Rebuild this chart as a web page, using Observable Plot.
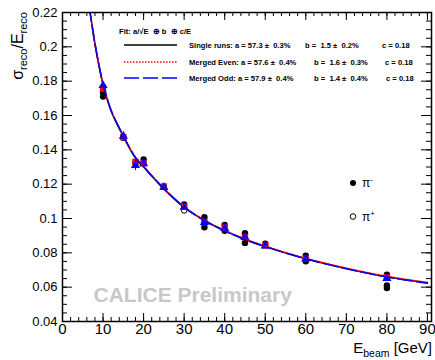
<!DOCTYPE html>
<html><head><meta charset="utf-8">
<script src="https://cdn.jsdelivr.net/npm/d3@7"></script>
<script src="https://cdn.jsdelivr.net/npm/@observablehq/plot@0.6"></script>
<style>
body{margin:0;background:#fff;}
#chart{position:relative;width:435px;height:360px;}
</style></head><body><div id="chart"></div>
<script>
// ---- data ----
const piMinusE = [10, 10, 15, 18, 20, 25, 30, 35, 35, 40, 40, 45, 45, 50, 60, 60, 80, 80, 80];
const piMinusV = [0.1735, 0.1710, 0.1470, 0.1325, 0.1344, 0.1186, 0.1082, 0.1008, 0.0949, 0.0963, 0.0928, 0.0914, 0.0858, 0.0853, 0.0784, 0.0751, 0.0672, 0.0610, 0.0595];
const piPlusE = [30];
const piPlusV = [0.1047];

const mergedE = [10, 15, 18, 20, 25, 30, 35, 40, 45, 50, 60, 80];
const evenV = [0.1757, 0.1474, 0.1330, 0.1322, 0.1186, 0.1070, 0.0978, 0.0948, 0.0891, 0.0843, 0.0767, 0.0658];
const evenErr = [0.0015, 0.0012, 0.0015, 0.0012, 0.0010, 0.0010, 0.0010, 0.0010, 0.0010, 0.0010, 0.0010, 0.0010];
const oddV = [0.1775, 0.1480, 0.1309, 0.1320, 0.1182, 0.1066, 0.0977, 0.0942, 0.0890, 0.0840, 0.0765, 0.0652];
const oddErr = [0.0015, 0.0012, 0.0030, 0.0012, 0.0010, 0.0010, 0.0010, 0.0010, 0.0010, 0.0010, 0.0010, 0.0010];

const fitE = [6.6, 7, 8, 9, 10, 12, 15, 18, 20, 25, 30, 35, 40, 45, 50, 60, 70, 80, 90];
const fitSingle = [0.2225, 0.2165, 0.2015, 0.1888, 0.1780, 0.1625, 0.1478, 0.1352, 0.1300, 0.1172, 0.1064, 0.0988, 0.0928, 0.0878, 0.0836, 0.0765, 0.0708, 0.0660, 0.0625];
const fitEven  = [0.2230, 0.2170, 0.2020, 0.1893, 0.1785, 0.1630, 0.1482, 0.1356, 0.1304, 0.1176, 0.1068, 0.0991, 0.0931, 0.0881, 0.0839, 0.0768, 0.0711, 0.0663, 0.0628];
const fitOdd   = [0.2235, 0.2174, 0.2023, 0.1895, 0.1787, 0.1630, 0.1482, 0.1355, 0.1302, 0.1174, 0.1066, 0.0988, 0.0928, 0.0878, 0.0836, 0.0765, 0.0707, 0.0659, 0.0623];

const xMajor = [0, 10, 20, 30, 40, 50, 60, 70, 80, 90];
const xMinor = d3.range(0, 91, 2);
const yMajor = [0.04, 0.06, 0.08, 0.1, 0.12, 0.14, 0.16, 0.18, 0.2, 0.22];
const yMinor = d3.range(0.04, 0.2201, 0.005);

const legendRows = [
  {label: "Single runs: a = 57.3 \u00b1  0.3%", b: "b =  1.5 \u00b1  0.2%", c: "c = 0.18"},
  {label: "Merged Even: a = 57.6 \u00b1  0.4%", b: "b =  1.6 \u00b1  0.3%", c: "c = 0.18"},
  {label: "Merged Odd: a = 57.9 \u00b1  0.4%", b: "b =  1.4 \u00b1  0.4%", c: "c = 0.18"}
];

// ---- tables ----
const piMinus = piMinusE.map((e, i) => ({e, v: piMinusV[i]}));
const piPlus = piPlusE.map((e, i) => ({e, v: piPlusV[i]}));
const even = mergedE.map((e, i) => ({e, v: evenV[i], err: evenErr[i]}));
const odd = mergedE.map((e, i) => ({e, v: oddV[i], err: oddErr[i]}));
const fS = fitE.map((e, i) => ({e, v: fitSingle[i]}));
const fE = fitE.map((e, i) => ({e, v: fitEven[i]}));
const fO = fitE.map((e, i) => ({e, v: fitOdd[i]}));

const W = 435, H = 360, ML = 62, MR = 4, MT = 12, MB = 39;
const FW = W - ML - MR, FH = H - MT - MB;
const FONT = "'Liberation Sans', Arial, Helvetica, sans-serif";

const chart = Plot.plot({
  width: W, height: H,
  marginLeft: ML, marginRight: MR, marginTop: MT, marginBottom: MB,
  style: {fontFamily: FONT, background: "white", color: "black"},
  x: {domain: [0, 91]},
  y: {domain: [0.04, 0.22]},
  marks: [
    // tick marks (inward, on all four sides)
    Plot.tickX(xMajor, {x: d => d, insetTop: FH - 8, stroke: "black"}),
    Plot.tickX(xMajor, {x: d => d, insetBottom: FH - 8, stroke: "black"}),
    Plot.tickX(xMinor, {x: d => d, insetTop: FH - 4, stroke: "black"}),
    Plot.tickX(xMinor, {x: d => d, insetBottom: FH - 4, stroke: "black"}),
    Plot.tickY(yMajor, {y: d => d, insetRight: FW - 10, stroke: "black"}),
    Plot.tickY(yMajor, {y: d => d, insetLeft: FW - 10, stroke: "black"}),
    Plot.tickY(yMinor, {y: d => d, insetRight: FW - 5, stroke: "black"}),
    Plot.tickY(yMinor, {y: d => d, insetLeft: FW - 5, stroke: "black"}),
    Plot.axisX({ticks: xMajor, tickSize: 0, tickPadding: 2, fontSize: 15, tickFormat: d => String(d), label: null}),
    Plot.axisY({ticks: yMajor, tickSize: 0, tickPadding: 5, fontSize: 13, tickFormat: d => String(+d.toFixed(2)), label: null}),
    // watermark
    Plot.text(["CALICE Preliminary"], {frameAnchor: "bottom-left", dx: 31, dy: -20, fontSize: 21, fontWeight: "bold", fill: "#c8c8c8", textAnchor: "start"}),
    // data points
    Plot.dot(piMinus, {x: "e", y: "v", r: 3.2, fill: "black", stroke: "none"}),
    Plot.dot(piPlus, {x: "e", y: "v", r: 2.8, fill: "white", stroke: "black", strokeWidth: 1}),
    Plot.ruleX(even, {x: "e", y1: d => d.v - d.err, y2: d => d.v + d.err, stroke: "red", strokeWidth: 1}),
    Plot.dot(even, {x: "e", y: "v", symbol: "square", r: 3.6, fill: "red", stroke: "none"}),
    Plot.ruleX(odd, {x: "e", y1: d => d.v - d.err, y2: d => d.v + d.err, stroke: "blue", strokeWidth: 1}),
    Plot.dot(odd, {x: "e", y: "v", symbol: "triangle", r: 3.4, fill: "blue", stroke: "none"}),
    // fits
    Plot.line(fS, {x: "e", y: "v", stroke: "black", strokeWidth: 1.5, curve: "catmull-rom", clip: true}),
    Plot.line(fE, {x: "e", y: "v", stroke: "red", strokeWidth: 1.5, strokeDasharray: "1.5,1.5", curve: "catmull-rom", clip: true}),
    Plot.line(fO, {x: "e", y: "v", stroke: "blue", strokeWidth: 1.5, strokeDasharray: "15,4", curve: "catmull-rom", clip: true}),
    Plot.frame({stroke: "black", strokeWidth: 1.5})
  ]
});

document.getElementById("chart").appendChild(chart);
const svg = d3.select(chart);

// axis titles
const yt = svg.append("text")
  .attr("transform", "translate(23,12) rotate(-90)")
  .attr("text-anchor", "end")
  .attr("font-family", FONT).attr("font-size", 16).attr("fill", "black");
yt.append("tspan").text("\u03c3");
yt.append("tspan").attr("font-size", 11).attr("dy", 4).text("reco");
yt.append("tspan").attr("dy", -4).text("/E");
yt.append("tspan").attr("font-size", 11).attr("dy", 4).text("reco");

const xt = svg.append("text")
  .attr("x", 432).attr("y", 353)
  .attr("text-anchor", "end")
  .attr("font-family", FONT).attr("font-size", 15).attr("fill", "black");
xt.append("tspan").text("E");
xt.append("tspan").attr("font-size", 10.5).attr("dy", 4).text("beam");
xt.append("tspan").attr("dy", -4).style("white-space", "pre").text(" [GeV]");

// fit legend
const lg = svg.append("g").attr("font-family", FONT).attr("font-size", 7.6).attr("font-weight", "bold")
  .attr("fill", "black").attr("text-anchor", "start").style("white-space", "pre");
lg.append("text").attr("x", 119).attr("y", 34).text("Fit: a/\u221aE  \u2295 b  \u2295 c/E");
const rowY = [45, 62, 78];
const lineStyles = [
  {stroke: "black", dash: null},
  {stroke: "red", dash: "1.5,1.5"},
  {stroke: "blue", dash: "15,4"}
];
const bX = [305, 314, 314], cX = [382, 385, 386];
legendRows.forEach((r, i) => {
  const l = lg.append("line").attr("x1", 124).attr("x2", 177).attr("y1", rowY[i]).attr("y2", rowY[i])
    .attr("stroke", lineStyles[i].stroke).attr("stroke-width", 1.5);
  if (lineStyles[i].dash) l.attr("stroke-dasharray", lineStyles[i].dash);
  lg.append("text").attr("x", 189).attr("y", rowY[i] + 2.7).text(r.label);
  lg.append("text").attr("x", bX[i]).attr("y", rowY[i] + 2.7).text(r.b);
  lg.append("text").attr("x", cX[i]).attr("y", rowY[i] + 2.7).text(r.c);
});

// particle legend
const pl = svg.append("g").attr("font-family", FONT).attr("fill", "black").attr("text-anchor", "start");
pl.append("circle").attr("cx", 353).attr("cy", 183).attr("r", 3).attr("fill", "black");
const t1 = pl.append("text").attr("x", 362).attr("y", 187).attr("font-size", 12);
t1.append("tspan").text("\u03c0");
t1.append("tspan").attr("font-size", 8).attr("dy", -5).text("-");
pl.append("circle").attr("cx", 353).attr("cy", 216.5).attr("r", 2.8).attr("fill", "white").attr("stroke", "black");
const t2 = pl.append("text").attr("x", 362).attr("y", 220.5).attr("font-size", 12);
t2.append("tspan").text("\u03c0");
t2.append("tspan").attr("font-size", 8).attr("dy", -5).text("+");
</script>
</body></html>
